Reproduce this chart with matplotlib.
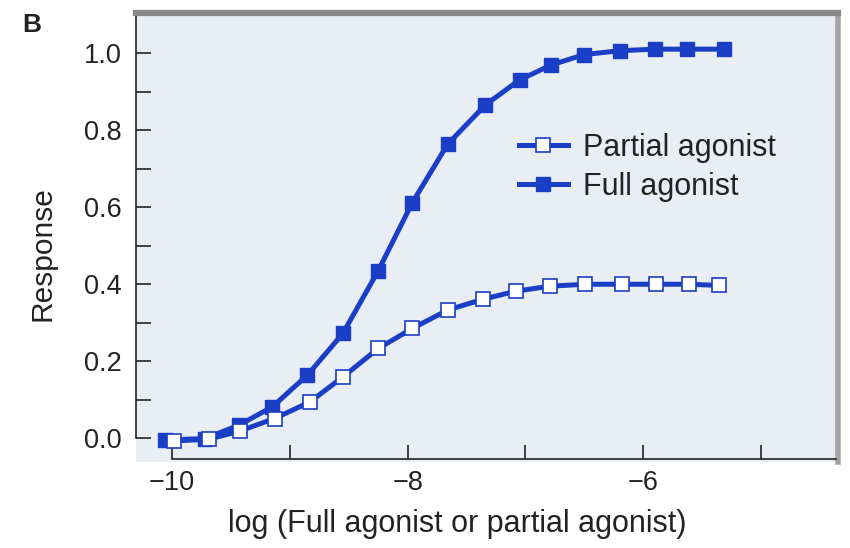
import matplotlib
matplotlib.use("Agg")
import matplotlib.pyplot as plt
from matplotlib.ticker import FixedLocator, NullFormatter

plt.rcParams['font.family'] = ['Liberation Sans', 'DejaVu Sans']

# Data
full_x = [-10.06, -9.72, -9.43, -9.15, -8.85, -8.55, -8.25, -7.96, -7.66,
          -7.34, -7.05, -6.78, -6.50, -6.20, -5.90, -5.63, -5.31]
full_y = [-0.005, -0.001, 0.034, 0.081, 0.164, 0.272, 0.435, 0.612, 0.764,
          0.866, 0.931, 0.970, 0.997, 1.007, 1.011, 1.011, 1.011]
partial_x = [-9.98, -9.69, -9.42, -9.13, -8.83, -8.55, -8.25, -7.96, -7.66,
             -7.36, -7.08, -6.79, -6.49, -6.18, -5.89, -5.61, -5.36]
partial_y = [-0.007, -0.003, 0.019, 0.051, 0.094, 0.159, 0.233, 0.285, 0.333,
             0.361, 0.382, 0.395, 0.400, 0.400, 0.400, 0.400, 0.397]

x_major = [-10, -8, -6]
x_minor = [-9, -7, -5]
y_major = [0.0, 0.2, 0.4, 0.6, 0.8, 1.0]
y_minor = [0.1, 0.3, 0.5, 0.7, 0.9]

blue = '#1b3ec6'
panel = '#e8eef3'
ink = '#222222'

fig = plt.figure(figsize=(8.5, 5.48), dpi=100)
ax = fig.add_axes([136/850, 1-462/548, 702/850, 449/548])
ax.set_facecolor(panel)

ax.plot(full_x, full_y, '-s', color=blue, lw=3.6, ms=9.5, mfc=blue, mec=blue,
        mew=1.0, label='Full agonist', zorder=3)
ax.plot(partial_x, partial_y, '-s', color=blue, lw=3.6, ms=9.5, mfc='white',
        mec=blue, mew=1.2, label='Partial agonist', zorder=4)

ax.set_xlim(-10.306, -4.346)
ax.set_ylim(-0.062, 1.105)

# spines
ax.spines['left'].set_bounds(0, 1.105)
ax.spines['left'].set_linewidth(1.2)
ax.spines['left'].set_color(ink)
ax.spines['bottom'].set_position(('data', -0.055))
ax.spines['bottom'].set_bounds(-10, -4.36)
ax.spines['bottom'].set_linewidth(1.2)
ax.spines['bottom'].set_color(ink)
ax.spines['top'].set_linewidth(4.5)
ax.spines['top'].set_color('#8a8a8a')
ax.spines['right'].set_linewidth(4)
ax.spines['right'].set_color('#a3a3a3')

ax.xaxis.set_major_locator(FixedLocator(x_major))
ax.xaxis.set_minor_locator(FixedLocator(x_minor))
ax.xaxis.set_minor_formatter(NullFormatter())
ax.set_xticklabels([f'\u2212{abs(v)}' for v in x_major])
ax.yaxis.set_major_locator(FixedLocator(y_major))
ax.yaxis.set_minor_locator(FixedLocator(y_minor))
ax.yaxis.set_minor_formatter(NullFormatter())
ax.set_yticklabels([f'{v:.1f}' for v in y_major])

ax.tick_params(axis='both', which='both', direction='in', width=1.2,
               color=ink, labelsize=19.5, labelcolor=ink)
ax.tick_params(axis='y', which='both', length=11, pad=10)
ax.tick_params(axis='x', which='both', length=10, pad=8)

ax.set_xlabel('log (Full agonist or partial agonist)', fontsize=22, color=ink)
ax.xaxis.set_label_coords((457-136)/702, (462-509)/449)
ax.set_ylabel('Response', fontsize=21.5, color=ink)
ax.yaxis.set_label_coords((57-136)/702, (462-254)/449)

handles, labels = ax.get_legend_handles_labels()
leg = ax.legend(handles[::-1], labels[::-1], loc='upper left',
                bbox_to_anchor=((519-136)/702, (462-133)/449),
                frameon=False, fontsize=22, handlelength=1.6,
                handletextpad=0.5, labelspacing=0.3, borderpad=0,
                borderaxespad=0, numpoints=1, labelcolor=ink)

fig.text(22/850, 1-32/548, 'B', fontsize=19, fontweight='bold',
         color=ink, va='baseline', ha='left')

fig.savefig('out.png', dpi=100, facecolor='white')
